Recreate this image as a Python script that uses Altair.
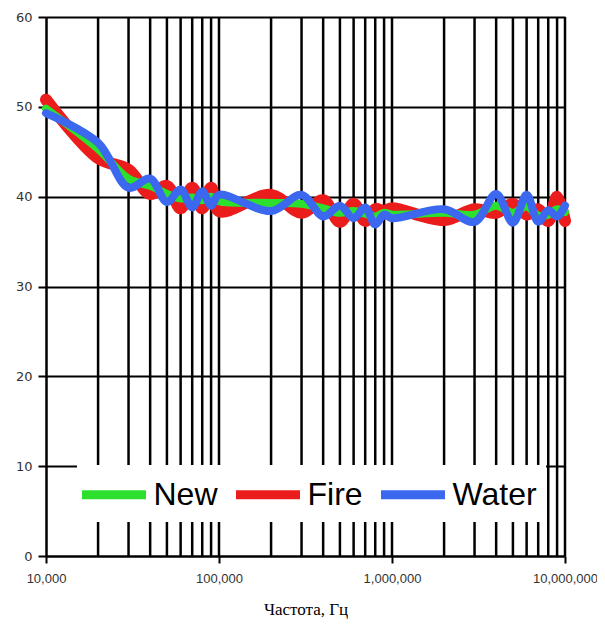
import altair as alt
import pandas as pd

freqs = [1e4, 2e4, 3e4, 4e4, 5e4, 6e4, 7e4, 8e4, 9e4,
         1e5, 2e5, 3e5, 4e5, 5e5, 6e5, 7e5, 8e5, 9e5,
         1e6, 2e6, 3e6, 4e6, 5e6, 6e6, 7e6, 8e6, 9e6, 1e7]

new_vals = [49.8, 45.3, 42.0, 41.2, 40.3, 39.8, 39.9, 39.6, 40.0,
            39.5, 39.3, 39.2, 38.7, 38.2, 38.4, 38.1, 37.8, 38.2,
            38.0, 38.2, 38.0, 39.0, 38.2, 38.9, 37.9, 38.0, 38.6, 38.3]
fire_vals = [50.8, 44.3, 43.0, 40.3, 41.2, 38.7, 41.0, 38.7, 41.0,
             38.4, 40.2, 38.2, 39.6, 37.2, 39.2, 37.3, 38.6, 38.4,
             38.7, 37.4, 38.6, 38.2, 39.2, 38.0, 38.6, 37.3, 40.0, 37.3]
water_vals = [49.3, 46.0, 41.0, 42.0, 39.4, 40.8, 38.8, 40.6, 39.0,
              40.2, 38.4, 40.2, 37.8, 39.0, 37.6, 38.8, 36.9, 38.0,
              37.6, 38.6, 37.2, 40.3, 37.1, 40.2, 37.2, 38.5, 37.8, 39.0]

series_names = ["New", "Fire", "Water"]
series_colors = ["#2EE02E", "#EA1C1C", "#3B68EE"]

grid_freqs = [2e4, 3e4, 4e4, 5e4, 6e4, 7e4, 8e4, 9e4,
              1e5, 2e5, 3e5, 4e5, 5e5, 6e5, 7e5, 8e5, 9e5,
              1e6, 2e6, 3e6, 4e6, 5e6, 6e6, 7e6, 8e6, 9e6, 1e7]
x_ticks = [1e4, 1e5, 1e6, 1e7]
y_ticks = [0, 10, 20, 30, 40, 50, 60]

rows = []
for name, vals in zip(series_names, [new_vals, fire_vals, water_vals]):
    for f, v in zip(freqs, vals):
        rows.append({"f": f, "v": v, "series": name})
df = pd.DataFrame(rows)

xscale = alt.Scale(type="log", domain=[1e4, 1e7], nice=False)
yscale = alt.Scale(domain=[0, 60], nice=False)

x_axis = alt.Axis(values=x_ticks, format=",", grid=False,
                  labelFont="Liberation Sans", labelFontSize=13, labelColor="#333333",
                  labelPadding=9, labelFlush=False, labelOverlap=False,
                  tickColor="black", tickWidth=2, tickSize=7,
                  domainColor="black", domainWidth=2,
                  title="Частота, Гц", titleFont="Liberation Serif",
                  titleFontSize=17, titleFontWeight="normal", titleColor="black",
                  titlePadding=16)
y_axis = alt.Axis(values=y_ticks, grid=True, gridColor="black", gridWidth=2,
                  gridOpacity=1, labelFont="DejaVu Sans", labelFontSize=13,
                  labelColor="#333333", labelPadding=6,
                  tickColor="black", tickWidth=2, tickSize=8,
                  domainColor="black", domainWidth=2.5, title=None)

color = alt.Color("series:N",
                  scale=alt.Scale(domain=series_names, range=series_colors),
                  sort=series_names,
                  legend=alt.Legend(orient="none", legendX=31, legendY=448,
                                    direction="horizontal", title=None,
                                    fillColor="white", padding=9,
                                    symbolType="M-2,0L2,0", symbolSize=1024,
                                    symbolStrokeWidth=9, symbolOpacity=1,
                                    symbolOffset=7.5,
                                    labelFont="Liberation Sans", labelFontSize=32,
                                    labelColor="black", labelOffset=19,
                                    columnPadding=0, labelLimit=0))

grid = alt.Chart(pd.DataFrame({"f": grid_freqs})).mark_rule(
    color="black", strokeWidth=2.5
).encode(x=alt.X("f:Q", scale=xscale, axis=x_axis))

def line(name, width):
    return alt.Chart(df).transform_filter(
        alt.datum.series == name
    ).mark_line(strokeWidth=width, interpolate="catmull-rom",
                strokeCap="round", strokeJoin="round").encode(
        x=alt.X("f:Q", scale=xscale, axis=x_axis),
        y=alt.Y("v:Q", scale=yscale, axis=y_axis),
        color=color,
    )

chart = alt.layer(
    grid,
    line("Fire", 12),
    line("New", 8),
    line("Water", 8),
).properties(
    width=519, height=539,
    autosize=alt.AutoSizeParams(type="none"),
    padding={"left": 38, "top": 9, "right": 32, "bottom": 65},
).configure_view(stroke=None)

chart.save("out.html", embed_options={"renderer": "svg", "actions": False})
